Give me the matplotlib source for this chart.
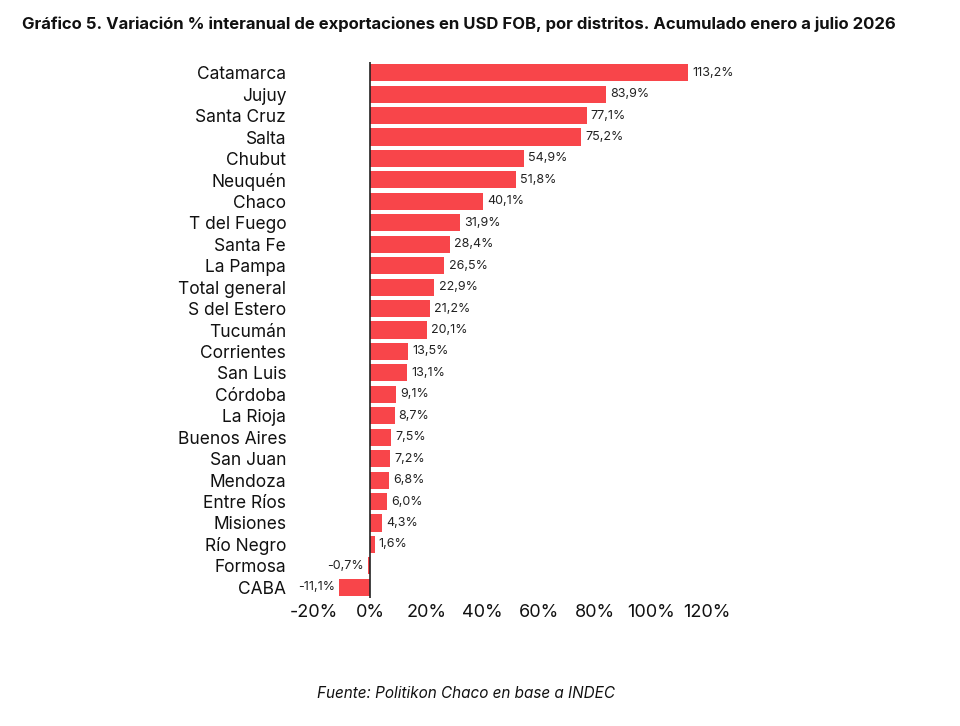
import matplotlib
matplotlib.use("Agg")
from matplotlib import pyplot as plt

# data (top to bottom)
districts = ['Catamarca', 'Jujuy', 'Santa Cruz', 'Salta', 'Chubut', 'Neuquén', 'Chaco',
             'T del Fuego', 'Santa Fe', 'La Pampa', 'Total general', 'S del Estero',
             'Tucumán', 'Corrientes', 'San Luis', 'Córdoba', 'La Rioja', 'Buenos Aires',
             'San Juan', 'Mendoza', 'Entre Ríos', 'Misiones', 'Río Negro', 'Formosa', 'CABA']
variation = [113.2, 83.9, 77.1, 75.2, 54.9, 51.8, 40.1, 31.9, 28.4, 26.5, 22.9, 21.2,
             20.1, 13.5, 13.1, 9.1, 8.7, 7.5, 7.2, 6.8, 6.0, 4.3, 1.6, -0.7, -11.1]
xticks = [-20, 0, 20, 40, 60, 80, 100, 120]

plt.rcParams['font.family'] = ['Inter', 'DejaVu Sans']

fig = plt.figure(figsize=(9.6, 7.26), dpi=100)
ax = fig.add_axes([0.327, 0.1763, 0.4095, 0.7383])

ypos = list(range(len(districts)))
ax.barh(ypos, variation, height=0.8, color='#F8454A', zorder=2)
ax.set_ylim(len(districts) - 0.5, -0.5)
ax.set_xlim(-20, 120)

for y, v in zip(ypos, variation):
    txt = ('%.1f' % v).replace('.', ',') + '%'
    if v >= 0:
        ax.text(v + 1.5, y, txt, va='center', ha='left', fontsize=9, color='#222222')
    else:
        ax.text(v - 1.5, y, txt, va='center', ha='right', fontsize=9, color='#222222')

ax.set_yticks(ypos)
ax.set_yticklabels(districts, fontsize=12.5, color='#111111')
ax.set_xticks(xticks)
ax.set_xticklabels(['%d%%' % t for t in xticks], fontsize=13, color='#111111')
ax.tick_params(axis='both', length=0)
ax.tick_params(axis='y', pad=20)
ax.tick_params(axis='x', pad=4)

for s in ['top', 'right', 'bottom', 'left']:
    ax.spines[s].set_visible(False)
ax.axvline(0, color='#222222', linewidth=1.2, zorder=3)

fig.text(0.023, 0.967, 'Gráfico 5. Variación % interanual de exportaciones en USD FOB, por distritos. Acumulado enero a julio 2026',
         fontsize=12, fontweight='bold', ha='left', va='center', color='#111111', fontstretch='condensed')
fig.text(0.485, 0.045, 'Fuente: Politikon Chaco en base a INDEC', fontsize=11, style='italic',
         ha='center', va='center', color='#111111')

fig.savefig('out.png', dpi=100)
